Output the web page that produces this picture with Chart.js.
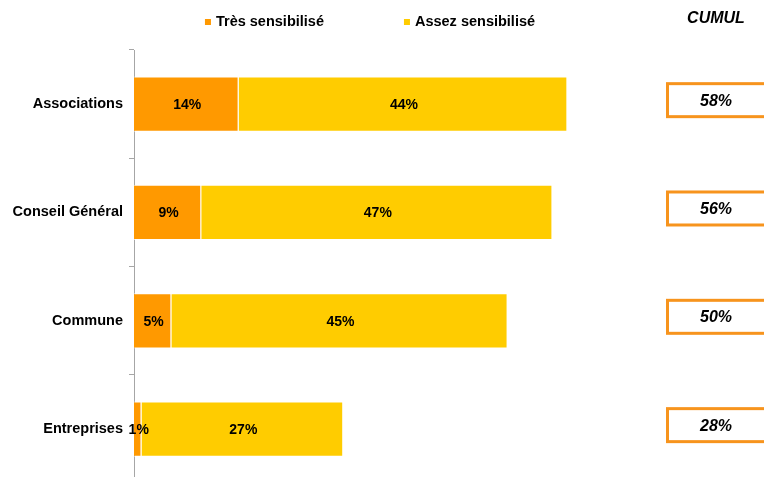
<!DOCTYPE html>
<html>
<head>
<meta charset="utf-8">
<script src="https://cdn.jsdelivr.net/npm/chart.js@4"></script>
<style>
  html, body { margin: 0; padding: 0; background: #fff; overflow: hidden; }
  #wrap { width: 764px; height: 498px; }
</style>
</head>
<body>
<div id="wrap"><canvas id="chart" width="764" height="498"></canvas></div>
<script>
const categories = ['Associations', 'Conseil Général', 'Commune', 'Entreprises'];
const tresSensibilise = [14, 9, 5, 1];
const assezSensibilise = [44, 47, 45, 27];
const cumul = [58, 56, 50, 28];

const FONT = '"Liberation Sans", Arial, sans-serif';
const ORANGE = '#FF9900';
const YELLOW = '#FFCC00';

// value labels inside bars + custom legend + CUMUL column
const overlay = {
    id: 'overlay',
    afterDatasetsDraw(chart) {
        const ctx = chart.ctx;
        ctx.save();
        ctx.fillStyle = '#000';
        ctx.font = 'bold 14px ' + FONT;
        ctx.textAlign = 'center';
        ctx.textBaseline = 'middle';
        chart.data.datasets.forEach((ds, i) => {
            chart.getDatasetMeta(i).data.forEach((bar, j) => {
                const p = bar.getProps(['x', 'y', 'base'], true);
                ctx.fillText(ds.data[j] + '%', (p.x + p.base) / 2 + 1, p.y + 1);
            });
        });

        // legend
        ctx.font = 'bold 14.5px ' + FONT;
        ctx.textAlign = 'left';
        const gap = 80;
        const items = chart.data.datasets.map(ds => ({
            label: ds.label, color: ds.backgroundColor,
            w: 6 + 5 + ctx.measureText(ds.label).width
        }));
        const total = items.reduce((s, it) => s + it.w, 0) + gap * (items.length - 1);
        let x = 370 - total / 2;
        items.forEach(it => {
            ctx.fillStyle = it.color;
            ctx.fillRect(x, 19, 6, 6);
            ctx.fillStyle = '#000';
            ctx.fillText(it.label, x + 11, 22);
            x += it.w + gap;
        });

        // CUMUL column
        const yScale = chart.scales.y;
        ctx.textAlign = 'center';
        ctx.font = 'italic bold 16px ' + FONT;
        ctx.fillText('CUMUL', 716, 19);
        cumul.forEach((v, i) => {
            const cy = yScale.getPixelForValue(i) - 4;
            ctx.strokeStyle = '#F7941D';
            ctx.lineWidth = 3;
            ctx.strokeRect(667.5, cy - 16.5, 110, 33);
            ctx.fillStyle = '#000';
            ctx.fillText(v + '%', 716, cy + 1);
        });
        ctx.restore();
    }
};

new Chart(document.getElementById('chart'), {
    type: 'bar',
    data: {
        labels: categories,
        datasets: [
            { label: 'Très sensibilisé', data: tresSensibilise, backgroundColor: ORANGE,
              borderColor: 'rgba(255,255,255,0.7)', borderWidth: 1 },
            { label: 'Assez sensibilisé', data: assezSensibilise, backgroundColor: YELLOW,
              borderColor: 'rgba(255,255,255,0.7)', borderWidth: 1 }
        ]
    },
    options: {
        indexAxis: 'y',
        responsive: false,
        animation: false,
        barPercentage: 0.51,
        categoryPercentage: 1,
        layout: { padding: { top: 50, bottom: 7, left: 0, right: 107 } },
        plugins: { legend: { display: false }, tooltip: { enabled: false } },
        scales: {
            x: { stacked: true, display: false, min: 0, max: 70 },
            y: {
                stacked: true,
                afterFit(scale) { scale.width = 134; },
                border: { color: '#A6A6A6', width: 1 },
                grid: { drawOnChartArea: false, tickLength: 5, color: '#A6A6A6', offset: true },
                ticks: { color: '#000', padding: 6, font: { family: FONT, size: 14.5, weight: 'bold' } }
            }
        }
    },
    plugins: [overlay]
});
</script>
</body>
</html>
